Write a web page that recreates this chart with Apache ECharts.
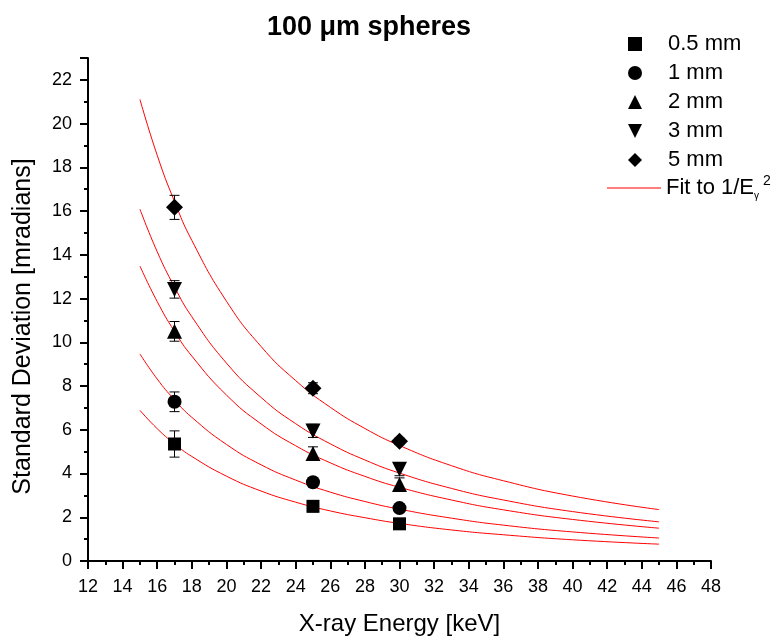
<!DOCTYPE html>
<html>
<head>
<meta charset="utf-8">
<script src="https://cdn.jsdelivr.net/npm/echarts@6/dist/echarts.min.js"></script>
<style>
  html, body { margin: 0; padding: 0; background: #fff; }
  #chart { width: 776px; height: 641px; }
</style>
</head>
<body>
<div id="chart"></div>
<script>
// measured energies (keV)
const energies = [17, 25, 30]

// standard deviation [mradians] and error per sphere size
const sd05 = [5.35, 2.5, 1.7]
const err05 = [0.6, 0.25, 0.1]
const sd1 = [7.28, 3.6, 2.42]
const err1 = [0.45, 0.15, 0.1]
const sd2 = [10.5, 4.92, 3.5]
const err2 = [0.45, 0.3, 0.3]
const sd3 = [12.42, 5.95, 4.2]
const err3 = [0.4, 0.3, 0.3]
const sd5 = [16.17, 7.9, 5.47]
const err5 = [0.55, 0.25, 0.15]

// fit curves
const fitE = [15, 16, 17, 18, 20, 22, 24, 26, 28, 30, 33, 36, 40, 45]
const fit05 = [6.89, 6.05, 5.36, 4.78, 3.88, 3.20, 2.69, 2.29, 1.98, 1.72, 1.42, 1.20, 0.97, 0.77]
const fit1 = [9.47, 8.32, 7.37, 6.57, 5.33, 4.40, 3.70, 3.15, 2.72, 2.37, 1.96, 1.64, 1.33, 1.05]
const fit2 = [13.49, 11.86, 10.50, 9.37, 7.59, 6.27, 5.27, 4.49, 3.87, 3.37, 2.79, 2.34, 1.90, 1.50]
const fit3 = [16.09, 14.14, 12.53, 11.17, 9.05, 7.48, 6.28, 5.36, 4.62, 4.02, 3.32, 2.79, 2.26, 1.79]
const fit5 = [21.11, 18.55, 16.44, 14.66, 11.88, 9.81, 8.25, 7.03, 6.06, 5.28, 4.36, 3.67, 2.97, 2.35]

const names = ['0.5 mm', '1 mm', '2 mm', '3 mm', '5 mm']
const symbols = ['rect', 'circle', 'triangle', 'path://M0,0L2,0L1,2Z', 'diamond']
const symbolSizes = [13, 14, 15, 15, 17]
const values = [sd05, sd1, sd2, sd3, sd5]
const errors = [err05, err1, err2, err3, err5]
const fits = [fit05, fit1, fit2, fit3, fit5]

const FONT = 'Liberation Sans, Arial, sans-serif'
const chart = echarts.init(document.getElementById('chart'))

const series = []

fits.forEach(fit => {
  series.push({
    name: 'Fit',
    type: 'line',
    smooth: true,
    symbol: 'none',
    data: fitE.map((e, i) => [e, fit[i]]),
    lineStyle: { color: '#ff0000', width: 1 },
    itemStyle: { color: '#ff0000' },
    silent: true,
    z: 2
  })
})

names.forEach((name, k) => {
  series.push({
    type: 'custom',
    data: energies.map((e, i) => [e, values[k][i] - errors[k][i], values[k][i] + errors[k][i]]),
    renderItem(params, api) {
      const lo = api.coord([api.value(0), api.value(1)])
      const hi = api.coord([api.value(0), api.value(2)])
      const w = 5
      const style = { stroke: '#000', lineWidth: 1 }
      return {
        type: 'group',
        children: [
          { type: 'line', shape: { x1: lo[0], y1: lo[1], x2: hi[0], y2: hi[1] }, style },
          { type: 'line', shape: { x1: lo[0] - w, y1: lo[1], x2: lo[0] + w, y2: lo[1] }, style },
          { type: 'line', shape: { x1: hi[0] - w, y1: hi[1], x2: hi[0] + w, y2: hi[1] }, style }
        ]
      }
    },
    silent: true,
    z: 3
  })
  series.push({
    name: name,
    type: 'scatter',
    symbol: symbols[k],
    symbolSize: symbolSizes[k],
    data: energies.map((e, i) => [e, values[k][i]]),
    itemStyle: { color: '#000', opacity: 1 },
    z: 4
  })
})

chart.setOption({
  animation: false,
  title: {
    text: '100 μm spheres',
    left: 364,
    top: 9,
    textAlign: 'center',
    textStyle: { fontFamily: FONT, fontSize: 27, fontWeight: 'bold', color: '#000' }
  },
  legend: [
    {
      data: names.map((n, k) => ({ name: n, icon: symbols[k] })),
      orient: 'vertical',
      left: 623,
      top: 28,
      itemWidth: 14,
      itemHeight: 14,
      itemGap: 7,
      itemStyle: { opacity: 1 },
      textStyle: { fontFamily: FONT, fontSize: 22, lineHeight: 22, color: '#000', padding: [0, 0, 0, 21] }
    },
    {
      data: [{ name: 'Fit', icon: 'rect' }],
      left: 602,
      top: 168,
      itemWidth: 54,
      itemHeight: 1,
      formatter: () => '{a|Fit to 1/E}{sub|γ}{sup| 2}',
      textStyle: {
        fontFamily: FONT,
        color: '#000',
        rich: {
          a: { fontFamily: FONT, fontSize: 22, color: '#000', lineHeight: 30, verticalAlign: 'middle' },
          sub: { fontFamily: FONT, fontSize: 10, color: '#000', lineHeight: 30, verticalAlign: 'bottom', padding: [0, 0, 2, 0] },
          sup: { fontFamily: FONT, fontSize: 14, color: '#000', lineHeight: 30, verticalAlign: 'top', padding: [1, 0, 0, 0] }
        }
      }
    }
  ],
  grid: { left: 88, right: 65, top: 58, bottom: 79 },
  xAxis: {
    type: 'value',
    min: 12,
    max: 48,
    interval: 2,
    name: 'X-ray Energy [keV]',
    nameLocation: 'middle',
    nameGap: 51,
    nameTextStyle: { fontFamily: FONT, fontSize: 24, color: '#000' },
    axisLine: { lineStyle: { color: '#000', width: 2 } },
    axisTick: { inside: false, length: 8, lineStyle: { color: '#000', width: 2 } },
    minorTick: { show: true, splitNumber: 2, length: 4, lineStyle: { color: '#000', width: 2 } },
    axisLabel: { fontFamily: FONT, fontSize: 18, color: '#000', margin: 17 },
    splitLine: { show: false }
  },
  yAxis: {
    type: 'value',
    min: 0,
    max: 23,
    interval: 2,
    name: 'Standard Deviation [mradians]',
    nameLocation: 'middle',
    nameGap: 52,
    nameTextStyle: { fontFamily: FONT, fontSize: 25, color: '#000', padding: [0, 34, 0, 0] },
    axisLine: { lineStyle: { color: '#000', width: 2 } },
    axisTick: { inside: false, length: 8, lineStyle: { color: '#000', width: 2 } },
    minorTick: { show: true, splitNumber: 2, length: 4, lineStyle: { color: '#000', width: 2 } },
    axisLabel: { fontFamily: FONT, fontSize: 18, color: '#000', margin: 16, showMaxLabel: false },
    splitLine: { show: false }
  },
  series: series
})
</script>
</body>
</html>
